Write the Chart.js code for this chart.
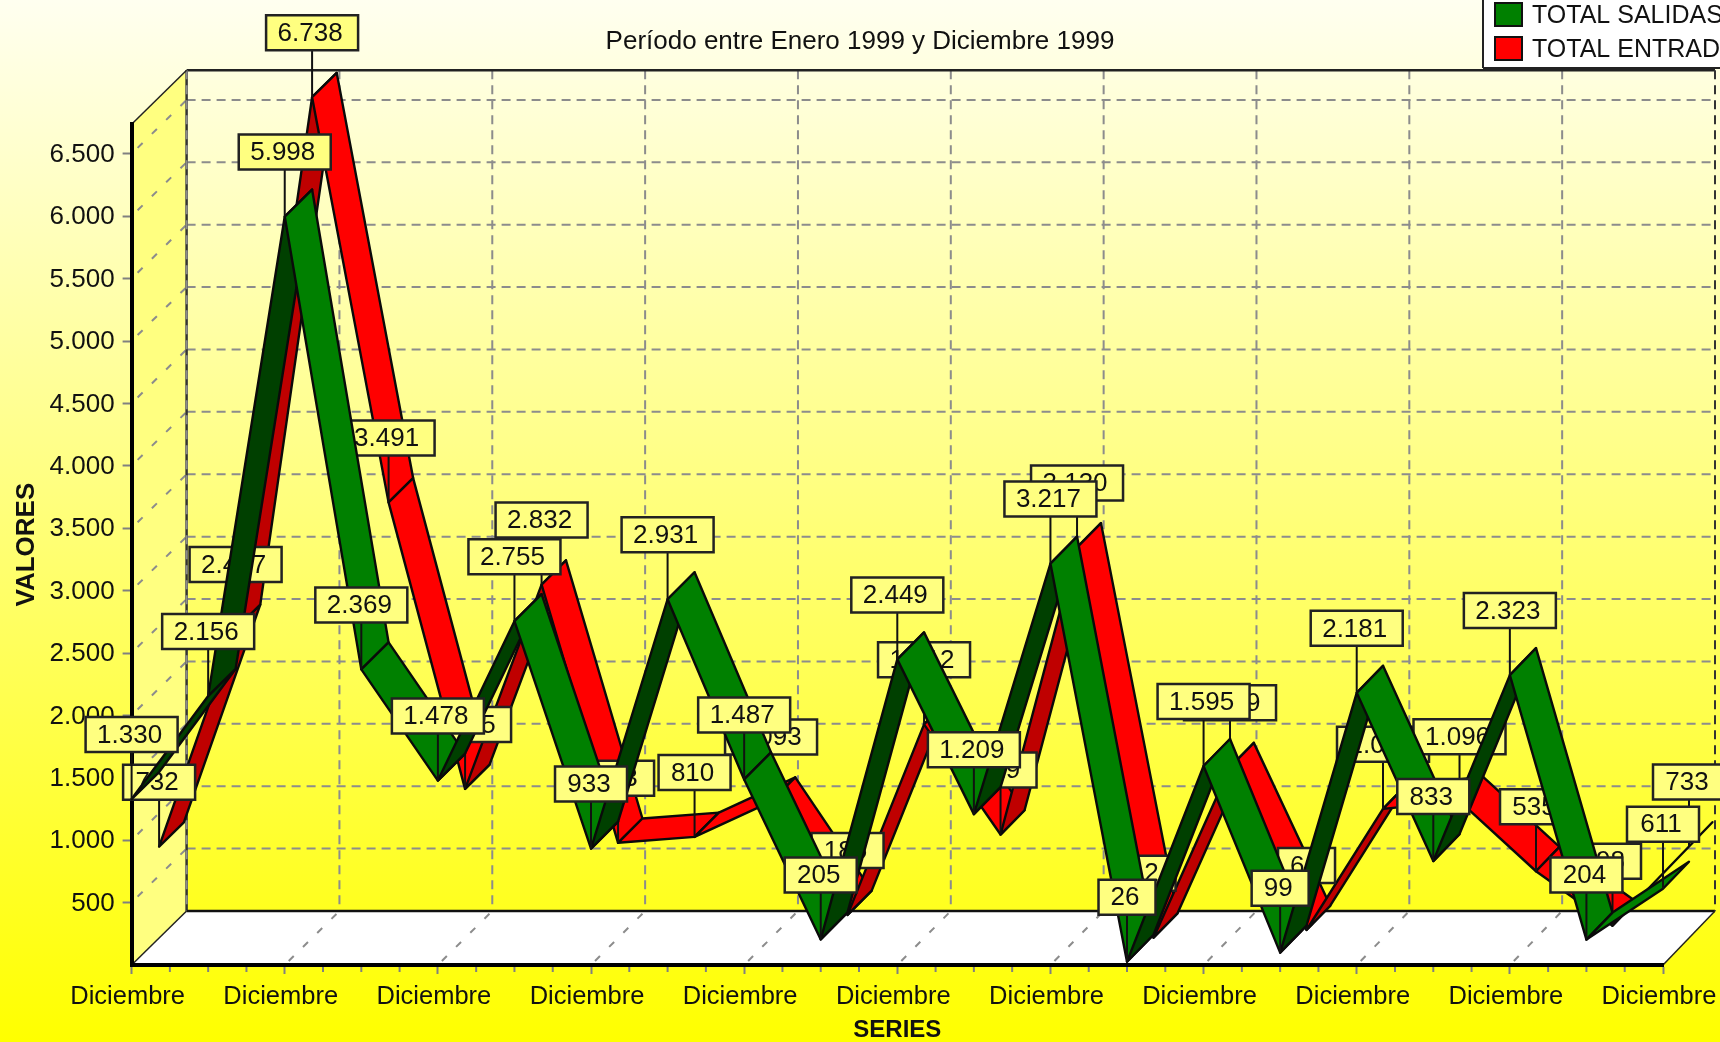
<!DOCTYPE html>
<html><head><meta charset="utf-8">
<style>html,body{margin:0;padding:0;background:#ff0;overflow:hidden}canvas{display:block}</style>
<script src="https://cdn.jsdelivr.net/npm/chart.js@4"></script>
</head><body><canvas id="c" width="1720" height="1042" style="width:1720px;height:1042px"></canvas>
<script>
const categories = ['Diciembre','Diciembre','Diciembre','Diciembre','Diciembre','Diciembre','Diciembre','Diciembre','Diciembre','Diciembre','Diciembre','Diciembre','Diciembre','Diciembre','Diciembre','Diciembre','Diciembre','Diciembre','Diciembre','Diciembre','Diciembre'];
const salidas = [1330,2156,5998,2369,1478,2755,933,2931,1487,205,2449,1209,3217,26,1595,99,2181,833,2323,204,611];
const entradas = [732,2477,6738,3491,1195,2832,763,810,1093,185,1712,829,3130,2,1369,64,1035,1096,535,98,733];
const yTicks = [500,1000,1500,2000,2500,3000,3500,4000,4500,5000,5500,6000,6500];
const titleText = 'Período entre Enero 1999 y Diciembre 1999';
const seriesNames = ['TOTAL SALIDAS','TOTAL ENTRADAS'];

const FONT = '"Liberation Sans", Arial, sans-serif';
const fmt = v => String(v).replace(/\B(?=(\d{3})+(?!\d))/g,'.');
const DY = 54;
const depthAt = (x,s,z) => ({dx:(55-3*(x-s.left)/(s.right-s.left))*z, dy:DY*z});

function dashed(ctx,x1,y1,x2,y2,pattern){
  ctx.save();ctx.strokeStyle='#8c8c8c';ctx.lineWidth=2;ctx.setLineDash(pattern||[9,6]);
  ctx.beginPath();ctx.moveTo(x1,y1);ctx.lineTo(x2,y2);ctx.stroke();ctx.restore();
}
function solid(ctx,x1,y1,x2,y2,w,c){
  ctx.strokeStyle=c||'#111';ctx.lineWidth=w;ctx.beginPath();ctx.moveTo(x1,y1);ctx.lineTo(x2,y2);ctx.stroke();
}
function ribbon(chart,idx,z0,z1,bright,dark){
  const ctx=chart.ctx,s=chart.scales.x,pts=chart.getDatasetMeta(idx).data;
  const P=(p,z)=>{const d=depthAt(p.x,s,z);return {x:p.x+d.dx,y:p.y-d.dy};};
  ctx.save();ctx.lineJoin='round';ctx.lineWidth=2.4;ctx.strokeStyle='#0a0a0a';
  for(let i=0;i<pts.length-1;i++){
    const a=P(pts[i],z0),b=P(pts[i+1],z0),c=P(pts[i+1],z1),d=P(pts[i],z1);
    const sx=b.x-a.x,sy=b.y-a.y,ex=d.x-a.x,ey=d.y-a.y;
    const under=(sx*ey-sy*ex)>0;
    ctx.fillStyle=under?dark:bright;
    ctx.beginPath();ctx.moveTo(a.x,a.y);ctx.lineTo(b.x,b.y);ctx.lineTo(c.x,c.y);ctx.lineTo(d.x,d.y);ctx.closePath();
    ctx.fill();ctx.stroke();
  }
  ctx.restore();
}
function labels(chart,idx,z0,values){
  const ctx=chart.ctx,s=chart.scales.x,pts=chart.getDatasetMeta(idx).data;
  ctx.save();ctx.font='26px '+FONT;ctx.textAlign='center';ctx.textBaseline='middle';
  pts.forEach((p,i)=>{
    const d=depthAt(p.x,s,z0),x=p.x+d.dx,y=p.y-d.dy;
    const t=fmt(values[i]);
    const w=t.length>=5?92:(t.length===3?72:(t.length===2?57:44)),h=35,gap=47;
    const top=y-gap-h;
    solid(ctx,x,top+h,x,y,2,'#111');
    ctx.fillStyle='#FFFF80';ctx.strokeStyle='#222';ctx.lineWidth=2.5;
    ctx.beginPath();ctx.rect(x-w/2,top,w,h);ctx.fill();ctx.stroke();
    ctx.fillStyle='#111';ctx.fillText(t,x-2,top+h/2+1);
  });
  ctx.restore();
}

const scene={
  id:'scene',
  beforeDraw(chart){
    const ctx=chart.ctx,xs=chart.scales.x,ys=chart.scales.y;
    const L=xs.left,R=xs.right,T=ys.top,B=ys.bottom;
    const g=ctx.createLinearGradient(0,0,0,chart.height);
    g.addColorStop(0,'#FFFFF0');g.addColorStop(1,'#FFFF00');
    ctx.save();ctx.fillStyle=g;ctx.fillRect(0,0,chart.width,chart.height);
    const bl=L+55,br=R+52,bt=T-DY,bb=B-DY;
    ctx.fillStyle='#FFFF80';ctx.beginPath();ctx.moveTo(L,T);ctx.lineTo(bl,bt);ctx.lineTo(bl,bb);ctx.lineTo(L,B);ctx.closePath();ctx.fill();
    ctx.fillStyle='#FFFFFF';ctx.beginPath();ctx.moveTo(L,B);ctx.lineTo(bl,bb);ctx.lineTo(br,bb);ctx.lineTo(R,B);ctx.closePath();ctx.fill();
    yTicks.forEach(v=>{
      const y=ys.getPixelForValue(v);
      dashed(ctx,L+6,y-6,bl,y-DY,[7,13]);
      dashed(ctx,bl,y-DY,br,y-DY);
    });
    xs.ticks.forEach((t,i)=>{
      if(i%2)return;
      const x=xs.getPixelForTick(i),d=depthAt(x,xs,1);
      if(i>0&&i<xs.ticks.length-1){
        dashed(ctx,x+d.dx,bt,x+d.dx,bb);
        dashed(ctx,x+4,B-4,x+d.dx,bb,[7,13]);
      }
    });
    solid(ctx,bl,bt,br,bt,2.5,'#222');
    solid(ctx,bl,bt,bl,bb,2.5,'#333');
    dashed(ctx,bl,bt,bl,bb);
    solid(ctx,bl,bb,br,bb,2.5,'#111');
    solid(ctx,L,T,bl,bt,1.5,'#222');
    solid(ctx,L,B,bl,bb,1.5,'#222');
    solid(ctx,R,B,br,bb,1.5,'#222');
    ctx.save();ctx.strokeStyle='#333';ctx.lineWidth=2;ctx.setLineDash([9,6]);ctx.beginPath();ctx.moveTo(br,bt);ctx.lineTo(br,bb);ctx.stroke();ctx.restore();
    ctx.restore();
  },
  afterDatasetsDraw(chart){
    const ctx=chart.ctx,xs=chart.scales.x,ys=chart.scales.y;
    ctx.save();
    const step=(xs.right-xs.left)/40;
    for(let i=0;i<=40;i++){ if(i%4){const x=xs.left+i*step;solid(ctx,x,ys.bottom+2,x,ys.bottom+7,2,'#808080');} }
    for(let v=100;v<6738;v+=100){ if(v%500){const y=ys.getPixelForValue(v);solid(ctx,ys.left-4,y,ys.left-1,y,2,'#808080');} }
    ctx.restore();
    ribbon(chart,1,0.5,0.95,'#FF0000','#BF0000');
    labels(chart,1,0.5,entradas);
    ribbon(chart,0,0,0.5,'#008000','#004000');
    labels(chart,0,0,salidas);
  },
  afterDraw(chart){
    const ctx=chart.ctx;
    ctx.save();
    ctx.fillStyle='#fff';ctx.fillRect(1483,0,237,68);
    solid(ctx,1483,0,1483,68,2,'#222');solid(ctx,1483,68,1720,68,2,'#222');
    [['#008000',3],['#FF0000',37]].forEach(([c,y],i)=>{
      ctx.fillStyle=c;ctx.strokeStyle='#111';ctx.lineWidth=2;
      ctx.beginPath();ctx.rect(1495,y,27,23);ctx.fill();ctx.stroke();
      ctx.fillStyle='#111';ctx.font='25px '+FONT;ctx.textAlign='left';ctx.textBaseline='middle';
      ctx.fillText(seriesNames[i],1532,y+13);
    });
    ctx.restore();
  }
};

new Chart(document.getElementById('c').getContext('2d'),{
  type:'line',
  data:{labels:categories,datasets:[
    {label:seriesNames[0],data:salidas,showLine:false,pointRadius:0,borderColor:'#008000',backgroundColor:'#008000'},
    {label:seriesNames[1],data:entradas,showLine:false,pointRadius:0,borderColor:'#FF0000',backgroundColor:'#FF0000'}
  ]},
  plugins:[scene],
  options:{
    responsive:false,animation:false,devicePixelRatio:1,
    layout:{padding:0},
    plugins:{
      legend:{display:false},tooltip:{enabled:false},
      title:{display:true,text:titleText,color:'#111',font:{family:FONT,size:26,weight:'normal',lineHeight:1.2},padding:{top:26,bottom:67}}
    },
    scales:{
      x:{type:'category',offset:false,
        afterFit(s){s.height=77;s.paddingRight=57;s.paddingLeft=0;},
        border:{display:true,color:'#000',width:4},
        grid:{drawOnChartArea:false,drawTicks:true,tickLength:9,tickWidth:2,tickColor:c=>c.index%2?'rgba(0,0,0,0)':'#808080'},
        ticks:{autoSkip:false,maxRotation:0,minRotation:0,padding:8,labelOffset:-4,color:'#111',font:{family:FONT,size:25.5},
          callback(v,i){return i%2?'':categories[i];}},
        title:{display:true,text:'SERIES',color:'#111',font:{family:FONT,size:24,weight:'bold',lineHeight:1},padding:{top:0,bottom:0}}
      },
      y:{type:'linear',min:0,max:6738,
        afterFit(s){s.width=131.6;},
        afterBuildTicks(s){s.ticks=yTicks.map(v=>({value:v}));},
        border:{display:true,color:'#000',width:4},
        grid:{drawOnChartArea:false,drawTicks:true,tickLength:9,tickWidth:2,tickColor:'#808080'},
        ticks:{autoSkip:false,padding:8,labelOffset:1,color:'#111',font:{family:FONT,size:26},callback:v=>fmt(v)},
        title:{display:true,text:'VALORES',color:'#111',font:{family:FONT,size:26,weight:'bold',lineHeight:1},padding:{top:14,bottom:0}}
      }
    }
  }
});
</script></body></html>
